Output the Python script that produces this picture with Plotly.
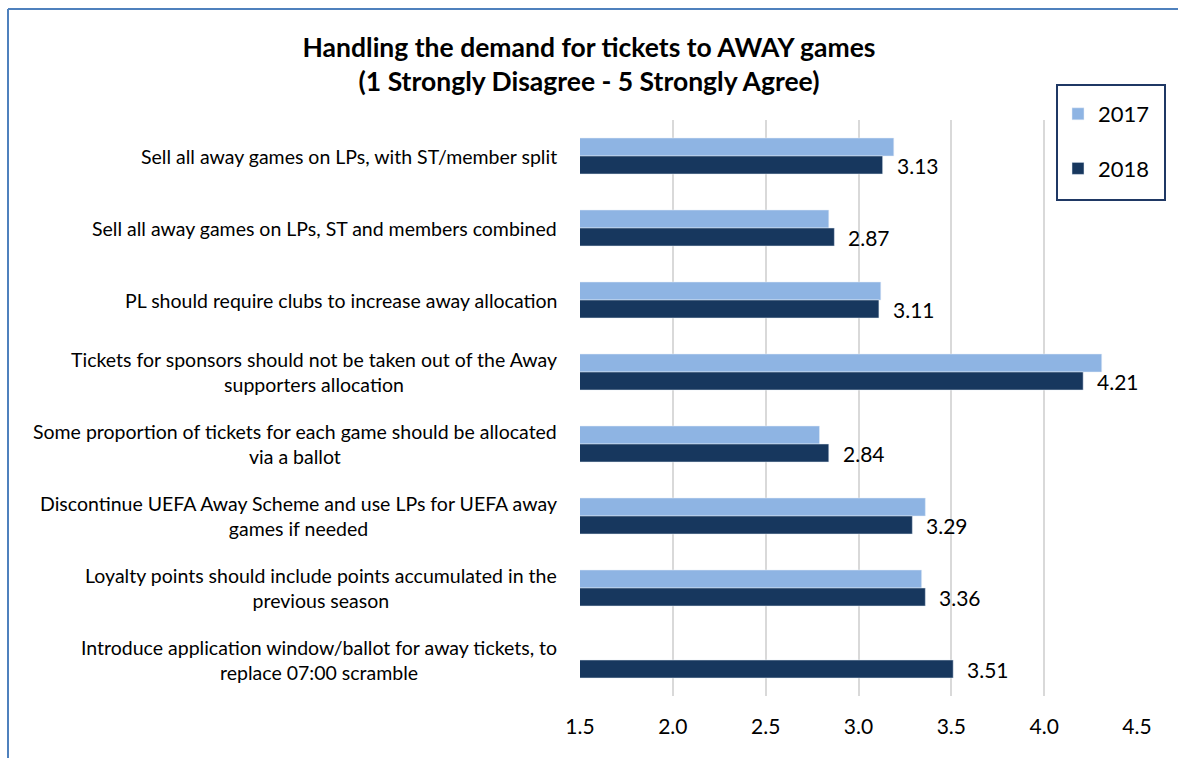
import plotly.graph_objects as go

# Survey statements (top to bottom) and mean scores per year
categories = [
    "Sell all away games on LPs, with ST/member split",
    "Sell all away games on LPs, ST and members combined",
    "PL should require clubs to increase away allocation",
    "Tickets for sponsors should not be taken out of the Away<br>supporters allocation",
    "Some proportion of tickets for each game should be allocated<br>via a ballot",
    "Discontinue UEFA Away Scheme and use LPs for UEFA away<br>games if needed",
    "Loyalty points should include points accumulated in the<br>previous season",
    "Introduce application window/ballot for away tickets, to<br>replace 07:00 scramble",
]
scores_2017 = [3.19, 2.84, 3.12, 4.31, 2.79, 3.36, 3.34, None]
scores_2018 = [3.13, 2.87, 3.11, 4.21, 2.84, 3.29, 3.36, 3.51]
x_ticks = [1.5, 2.0, 2.5, 3.0, 3.5, 4.0, 4.5]
x_tick_text = ["1.5", "2.0", "2.5", "3.0", "3.5", "4.0", "4.5"]

FONT = "Lato"
LIGHT = "#8EB4E3"
DARK = "#17375E"
FRAME = "#4F81BD"
LEGEND_FRAME = "#1F3864"

# plot area in pixels: x 580..1137, y 120..696
PL, PW, PB, PH = 580, 557, 696, 576


def px_x(p):
    return (p - PL) / PW


def px_y(p):
    return (PB - p) / PH


row_ids = list(range(len(categories)))

fig = go.Figure()
fig.add_trace(go.Bar(
    y=row_ids, x=scores_2017, name="2017", orientation="h",
    marker=dict(color=LIGHT), legendgroup="a",
))
fig.add_trace(go.Bar(
    y=row_ids, x=scores_2018, name="2018", orientation="h",
    marker=dict(color=DARK), legendgroup="b",
))

annotations = []
# category labels, centred multi-line text right-aligned to the axis
for i, cat in enumerate(categories):
    annotations.append(dict(
        x=px_x(559), xref="paper", y=i, yref="y", text=cat,
        xanchor="right", yanchor="middle", align="center", showarrow=False,
        font=dict(family=FONT, size=19.5, color="#000000"),
    ))
# 2018 value labels
for i, v in enumerate(scores_2018):
    annotations.append(dict(
        x=v, xref="x", y=i, yref="y", text=f"{v:.2f}",
        xanchor="left", yanchor="middle", showarrow=False,
        xshift=12, yshift=-9,
        font=dict(family=FONT, size=21, color="#000000"),
    ))

shapes = [
    # chart frame (top and left edges)
    dict(type="line", xref="paper", yref="paper",
         x0=px_x(8), x1=px_x(1300), y0=px_y(9), y1=px_y(9),
         line=dict(color=FRAME, width=2), layer="below"),
    dict(type="line", xref="paper", yref="paper",
         x0=px_x(8), x1=px_x(8), y0=px_y(9), y1=px_y(800),
         line=dict(color=FRAME, width=2), layer="below"),
    # legend frame
    dict(type="rect", xref="paper", yref="paper",
         x0=px_x(1057), x1=px_x(1165), y0=px_y(200), y1=px_y(85),
         line=dict(color=LEGEND_FRAME, width=2), fillcolor="white",
         layer="below"),
]

fig.update_layout(
    width=1178, height=758,
    margin=dict(l=PL, r=1178 - PL - PW, t=PB - PH, b=758 - PB),
    paper_bgcolor="white", plot_bgcolor="white",
    barmode="group", bargap=0.5, bargroupgap=0,
    font=dict(family=FONT, color="#000000"),
    title=dict(
        text="<b>Handling the demand for tickets to AWAY games<br>(1 Strongly Disagree - 5 Strongly Agree)</b>",
        x=0.5, xref="container", xanchor="center",
        y=1 - 57 / 758, yref="container", yanchor="middle",
        font=dict(family=FONT, size=26.5, color="#000000"),
    ),
    xaxis=dict(
        range=[1.5, 4.5], tickvals=x_ticks, ticktext=x_tick_text,
        showgrid=True, gridcolor="#D9D9D9", gridwidth=2,
        zeroline=False, showline=False, ticks="",
        ticklabelstandoff=16,
        tickfont=dict(family=FONT, size=21, color="#000000"),
    ),
    yaxis=dict(
        tickvals=row_ids, showticklabels=False, autorange="reversed",
        range=[-0.5, len(categories) - 0.5],
        showgrid=False, zeroline=False, showline=False, ticks="",
    ),
    legend=dict(
        x=px_x(1058), y=px_y(93), xanchor="left", yanchor="top",
        borderwidth=0, bgcolor="rgba(0,0,0,0)",
        traceorder="grouped", tracegroupgap=23,
        font=dict(family=FONT, size=22, color="#000000"),
    ),
    annotations=annotations,
    shapes=shapes,
)

fig.write_html("out.html", config={"displayModeBar": False})
